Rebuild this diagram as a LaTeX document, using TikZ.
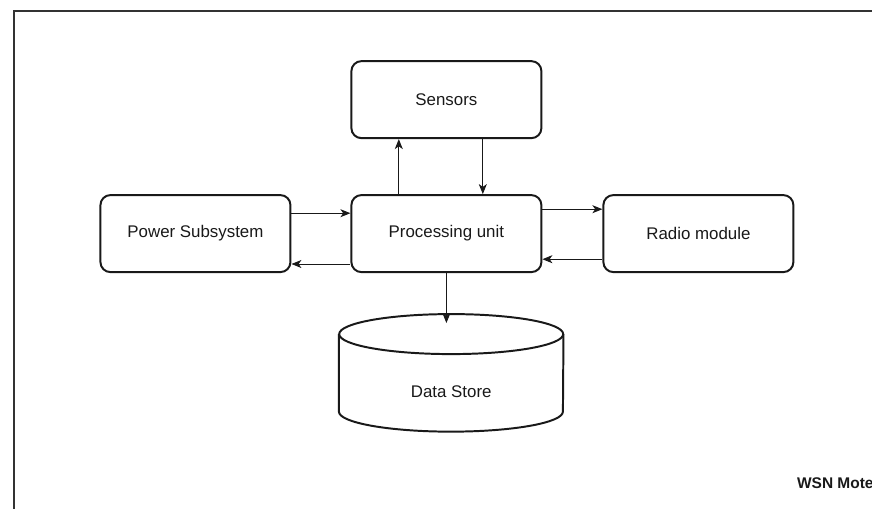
\documentclass[tikz,border=0pt]{standalone}
\usepackage{fontspec}
\setmainfont{Liberation Sans}
\usepackage{tikz}
\usetikzlibrary{arrows.meta, positioning}

\begin{document}
\begin{tikzpicture}[
        block/.style={
            rectangle, rounded corners=0.25cm, draw=black!90, line width=1.4pt,
            minimum width=4.75cm, minimum height=1.925cm, inner sep=0pt,
            align=center, text=black!90, font=\fontsize{12}{14}\selectfont
        },
        store/.style={
            rectangle, minimum width=5.6cm, minimum height=2cm, inner sep=0pt,
            text=black!90, font=\fontsize{12}{14}\selectfont
        },
        arrow/.style={->, >={Stealth[length=2.5mm, width=2mm, inset=0.7mm]}, line width=0.7pt, color=black!90}
    ]
        % Page and frame
        \clip (0,0) rectangle (21.8,-12.7);
        \draw[line width=1.8pt, color=black!80] (0.35,-0.27) rectangle (23,-13.5);

        % Blocks
        \node[block] (proc) at (11.16,-5.84) {Processing unit};
        \node[block] (sens) [above=1.375cm of proc] {Sensors};
        \node[block] (pwr) [left=1.475cm of proc] {Power Subsystem};
        \node[block] (radio) [right=1.5cm of proc] {Radio module};
        \node[store] (ds) [below=1.95cm of proc, xshift=0.12cm] {Data Store};

        % Cylinder round the data store
        \draw[line width=1.4pt, color=black!90]
            ([yshift=0.425cm]ds.north west) -- ([yshift=0.5cm]ds.south west)
            arc[start angle=180, end angle=360, x radius=2.8cm, y radius=0.5cm]
            -- ([yshift=0.425cm]ds.north east);
        \draw[line width=1.4pt, color=black!90]
            ([yshift=0.425cm]ds.north) ellipse[x radius=2.8cm, y radius=0.5cm];
        \coordinate (dstop) at ([yshift=0.7cm]ds.north -| proc.south);

        % Connectors
        \draw[arrow] ([xshift=-1.19cm]proc.north) -- ([xshift=-1.19cm]sens.south);
        \draw[arrow] ([xshift=0.91cm]sens.south) -- ([xshift=0.91cm]proc.north);
        \draw[arrow] ([yshift=0.51cm]pwr.east) -- ([yshift=0.51cm]proc.west);
        \draw[arrow] ([yshift=-0.76cm]proc.west) -- ([yshift=-0.76cm]pwr.east);
        \draw[arrow] ([yshift=0.61cm]proc.east) -- ([yshift=0.61cm]radio.west);
        \draw[arrow] ([yshift=-0.64cm]radio.west) -- ([yshift=-0.64cm]proc.east);
        \draw[arrow] (proc.south) -- (dstop);

        % Caption
        \node[anchor=west, inner sep=0pt, font=\bfseries\fontsize{11}{13}\selectfont, text=black!90]
            (cap) at (19.92,-12.08) {WSN Mote};

    \end{tikzpicture}
\end{document}
